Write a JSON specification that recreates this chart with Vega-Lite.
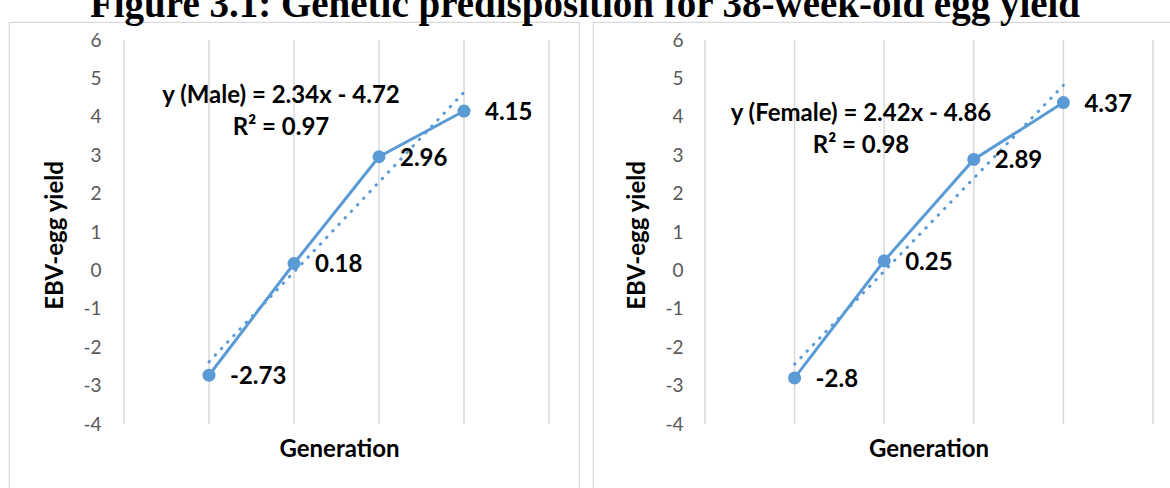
{
  "$schema": "https://vega.github.io/schema/vega-lite/v6.json",
  "padding": {"left": 8, "top": -14, "right": 0, "bottom": 0},
  "spacing": 12,
  "title": {"text": "Figure 3.1: Genetic predisposition for 38-week-old egg yield", "anchor": "middle", "font": "Liberation Serif", "fontSize": 39, "fontWeight": "bold", "color": "#000000", "baseline": "alphabetic", "offset": -35, "dx": -11},
  "config": {"view": {"stroke": "#d9d9d9", "strokeWidth": 1.25}},
  "datasets": {
    "grid": [{"g": 0}, {"g": 1}, {"g": 2}, {"g": 3}, {"g": 4}, {"g": 5}],
    "male": [{"g": 1, "v": -2.73}, {"g": 2, "v": 0.18}, {"g": 3, "v": 2.96}, {"g": 4, "v": 4.15}],
    "female": [{"g": 1, "v": -2.8}, {"g": 2, "v": 0.25}, {"g": 3, "v": 2.89}, {"g": 4, "v": 4.37}],
    "maleTrend": [{"g": 1, "v": -2.38}, {"g": 4, "v": 4.64}],
    "femaleTrend": [{"g": 1, "v": -2.44}, {"g": 4, "v": 4.82}],
    "maleEq": [{"t": "y (Male) = 2.34x - 4.72\nR² = 0.97"}],
    "femaleEq": [{"t": "y (Female) = 2.42x - 4.86\nR² = 0.98"}]
  },
  "hconcat": [
    {
      "width": 570,
      "height": 473,
      "layer": [
        {
          "data": {"name": "grid"},
          "mark": {"type": "rule", "color": "#d9d9d9", "strokeWidth": 1.5},
          "encoding": {
            "x": {"field": "g", "type": "quantitative", "scale": {"domain": [-1.353, 5.353], "nice": false, "zero": false},
              "axis": {"orient": "bottom", "offset": -71, "domain": false, "ticks": false, "tickSize": 0, "labels": false, "grid": false, "title": "Generation", "titleFont": "Lato", "titleFontSize": 24, "titleFontWeight": "bold", "titleColor": "#000000", "titlePadding": 13, "titleX": 330}},
            "y": {"datum": -4, "type": "quantitative", "scale": {"domain": [-5.849, 6.469], "nice": false, "zero": false},
              "axis": {"values": [-4, -3, -2, -1, 0, 1, 2, 3, 4, 5, 6], "offset": -96, "domain": false, "ticks": false, "tickSize": 0, "grid": false, "labelPadding": 4, "labelFont": "Lato", "labelFontSize": 19, "labelColor": "#595959", "labelExpr": "datum.value + ''", "labelOverlap": false, "labelFlush": false, "title": "EBV-egg yield", "titleFont": "Lato", "titleFontSize": 24, "titleFontWeight": "bold", "titleColor": "#000000", "titlePadding": 15, "titleY": 213}},
            "y2": {"datum": 6}
          }
        },
        {
          "data": {"name": "maleTrend"},
          "mark": {"type": "line", "color": "#5b9bd5", "strokeWidth": 3, "strokeDash": [0.5, 8.5], "strokeCap": "round"},
          "encoding": {
            "x": {"field": "g", "type": "quantitative", "scale": {"domain": [-1.353, 5.353], "nice": false, "zero": false}},
            "y": {"field": "v", "type": "quantitative", "scale": {"domain": [-5.849, 6.469], "nice": false, "zero": false}}
          }
        },
        {
          "data": {"name": "male"},
          "mark": {"type": "line", "color": "#5b9bd5", "strokeWidth": 3, "point": {"filled": true, "size": 170, "color": "#5b9bd5", "opacity": 1}},
          "encoding": {
            "x": {"field": "g", "type": "quantitative", "scale": {"domain": [-1.353, 5.353], "nice": false, "zero": false}},
            "y": {"field": "v", "type": "quantitative", "scale": {"domain": [-5.849, 6.469], "nice": false, "zero": false}}
          }
        },
        {
          "data": {"name": "male"},
          "mark": {"type": "text", "align": "left", "baseline": "middle", "dx": 21, "dy": 2, "font": "Lato", "fontSize": 24, "fontWeight": "bold", "color": "#000000"},
          "encoding": {
            "x": {"field": "g", "type": "quantitative", "scale": {"domain": [-1.353, 5.353], "nice": false, "zero": false}},
            "y": {"field": "v", "type": "quantitative", "scale": {"domain": [-5.849, 6.469], "nice": false, "zero": false}},
            "text": {"field": "v", "type": "nominal"}
          }
        },
        {
          "data": {"name": "maleEq"},
          "mark": {"type": "text", "align": "center", "baseline": "middle", "lineBreak": "\n", "lineHeight": 32, "font": "Lato", "fontSize": 24, "fontWeight": "bold", "color": "#000000"},
          "encoding": {
            "x": {"datum": 1.847, "type": "quantitative", "scale": {"domain": [-1.353, 5.353], "nice": false, "zero": false}},
            "y": {"datum": 4.542, "type": "quantitative", "scale": {"domain": [-5.849, 6.469], "nice": false, "zero": false}},
            "text": {"field": "t", "type": "nominal"}
          }
        }
      ]
    },
    {
      "width": 590,
      "height": 473,
      "layer": [
        {
          "data": {"name": "grid"},
          "mark": {"type": "rule", "color": "#d9d9d9", "strokeWidth": 1.5},
          "encoding": {
            "x": {"field": "g", "type": "quantitative", "scale": {"domain": [-1.25, 5.335], "nice": false, "zero": false},
              "axis": {"orient": "bottom", "offset": -71, "domain": false, "ticks": false, "tickSize": 0, "labels": false, "grid": false, "title": "Generation", "titleFont": "Lato", "titleFontSize": 24, "titleFontWeight": "bold", "titleColor": "#000000", "titlePadding": 13, "titleX": 335.5}},
            "y": {"datum": -4, "type": "quantitative", "scale": {"domain": [-5.849, 6.469], "nice": false, "zero": false},
              "axis": {"values": [-4, -3, -2, -1, 0, 1, 2, 3, 4, 5, 6], "offset": -94, "domain": false, "ticks": false, "tickSize": 0, "grid": false, "labelPadding": 4, "labelFont": "Lato", "labelFontSize": 19, "labelColor": "#595959", "labelExpr": "datum.value + ''", "labelOverlap": false, "labelFlush": false, "title": "EBV-egg yield", "titleFont": "Lato", "titleFontSize": 24, "titleFontWeight": "bold", "titleColor": "#000000", "titlePadding": 15, "titleY": 213}},
            "y2": {"datum": 6}
          }
        },
        {
          "data": {"name": "femaleTrend"},
          "mark": {"type": "line", "color": "#5b9bd5", "strokeWidth": 3, "strokeDash": [0.5, 8.5], "strokeCap": "round"},
          "encoding": {
            "x": {"field": "g", "type": "quantitative", "scale": {"domain": [-1.25, 5.335], "nice": false, "zero": false}},
            "y": {"field": "v", "type": "quantitative", "scale": {"domain": [-5.849, 6.469], "nice": false, "zero": false}}
          }
        },
        {
          "data": {"name": "female"},
          "mark": {"type": "line", "color": "#5b9bd5", "strokeWidth": 3, "point": {"filled": true, "size": 170, "color": "#5b9bd5", "opacity": 1}},
          "encoding": {
            "x": {"field": "g", "type": "quantitative", "scale": {"domain": [-1.25, 5.335], "nice": false, "zero": false}},
            "y": {"field": "v", "type": "quantitative", "scale": {"domain": [-5.849, 6.469], "nice": false, "zero": false}}
          }
        },
        {
          "data": {"name": "female"},
          "mark": {"type": "text", "align": "left", "baseline": "middle", "dx": 21, "dy": 2, "font": "Lato", "fontSize": 24, "fontWeight": "bold", "color": "#000000"},
          "encoding": {
            "x": {"field": "g", "type": "quantitative", "scale": {"domain": [-1.25, 5.335], "nice": false, "zero": false}},
            "y": {"field": "v", "type": "quantitative", "scale": {"domain": [-5.849, 6.469], "nice": false, "zero": false}},
            "text": {"field": "v", "type": "nominal"}
          }
        },
        {
          "data": {"name": "femaleEq"},
          "mark": {"type": "text", "align": "center", "baseline": "middle", "lineBreak": "\n", "lineHeight": 32, "font": "Lato", "fontSize": 24, "fontWeight": "bold", "color": "#000000"},
          "encoding": {
            "x": {"datum": 1.741, "type": "quantitative", "scale": {"domain": [-1.25, 5.335], "nice": false, "zero": false}},
            "y": {"datum": 4.073, "type": "quantitative", "scale": {"domain": [-5.849, 6.469], "nice": false, "zero": false}},
            "text": {"field": "t", "type": "nominal"}
          }
        }
      ]
    }
  ]
}
